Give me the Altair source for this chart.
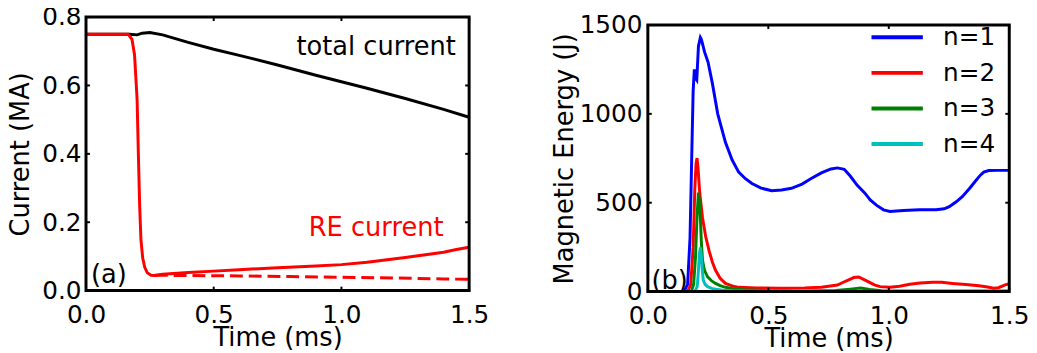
import altair as alt
import pandas as pd

# ---------- Panel (a): currents ----------
tot_t = [0.0, 0.10, 0.17, 0.20, 0.22, 0.25, 0.30, 0.40, 0.50, 0.60, 0.75, 0.90, 1.00, 1.10, 1.25, 1.40, 1.50]
tot_v = [0.750, 0.750, 0.750, 0.748, 0.753, 0.755, 0.748, 0.726, 0.706, 0.688, 0.660, 0.630, 0.611, 0.592, 0.562, 0.530, 0.507]

re_t = [0.0, 0.10, 0.165, 0.180, 0.190, 0.200, 0.205, 0.210, 0.215, 0.222, 0.230, 0.240, 0.255, 0.270, 0.30, 0.40, 0.50, 0.60, 0.75, 0.90, 1.00, 1.10, 1.25, 1.40, 1.45, 1.50]
re_v = [0.750, 0.750, 0.750, 0.735, 0.690, 0.560, 0.400, 0.250, 0.150, 0.095, 0.068, 0.052, 0.045, 0.044, 0.048, 0.053, 0.057, 0.061, 0.067, 0.072, 0.076, 0.083, 0.097, 0.112, 0.120, 0.127]

red_t = [0.27, 0.40, 0.60, 0.80, 1.00, 1.20, 1.40, 1.50]
red_v = [0.045, 0.044, 0.043, 0.041, 0.039, 0.037, 0.034, 0.033]

xa_ticks = [0.0, 0.5, 1.0, 1.5]
ya_ticks = [0.0, 0.2, 0.4, 0.6, 0.8]

# ---------- Panel (b): magnetic energy ----------
n1_t = [0.0, 0.15, 0.165, 0.175, 0.182, 0.188, 0.193, 0.198, 0.203, 0.210, 0.218, 0.222, 0.235, 0.250, 0.268, 0.290, 0.322, 0.350, 0.377, 0.405, 0.432, 0.470, 0.514, 0.555, 0.596, 0.640, 0.678, 0.720, 0.760, 0.787, 0.815, 0.840, 0.869, 0.900, 0.923, 0.950, 0.978, 1.005, 1.060, 1.128, 1.196, 1.230, 1.251, 1.280, 1.305, 1.335, 1.360, 1.380, 1.394, 1.415, 1.450, 1.500]
n1_v = [0, 0, 40, 300, 750, 1130, 1250, 1200, 1190, 1380, 1430, 1420, 1350, 1290, 1170, 1000, 840, 740, 672, 635, 608, 582, 568, 572, 581, 605, 636, 668, 690, 696, 688, 650, 598, 555, 516, 485, 460, 451, 456, 461, 460, 466, 478, 505, 534, 580, 622, 655, 672, 681, 682, 682]

n2_t = [0.0, 0.165, 0.178, 0.188, 0.195, 0.200, 0.204, 0.208, 0.215, 0.227, 0.240, 0.254, 0.268, 0.281, 0.300, 0.322, 0.350, 0.377, 0.450, 0.550, 0.650, 0.720, 0.787, 0.820, 0.855, 0.875, 0.910, 0.940, 0.964, 1.005, 1.045, 1.087, 1.130, 1.182, 1.220, 1.264, 1.320, 1.374, 1.410, 1.435, 1.455, 1.483, 1.500]
n2_v = [0, 0, 40, 250, 580, 720, 751, 700, 560, 414, 310, 230, 165, 120, 75, 46, 32, 24, 20, 19, 21, 25, 37, 58, 79, 82, 59, 38, 28, 24, 30, 41, 48, 52, 52, 46, 40, 33, 26, 19, 22, 38, 44]

n3_t = [0.0, 0.180, 0.190, 0.198, 0.204, 0.210, 0.216, 0.222, 0.227, 0.235, 0.248, 0.265, 0.281, 0.300, 0.322, 0.360, 0.400, 0.500, 0.650, 0.780, 0.840, 0.883, 0.920, 0.970, 1.050, 1.200, 1.500]
n3_v = [0, 0, 40, 200, 420, 557, 480, 280, 174, 120, 83, 60, 46, 34, 24, 15, 10, 5, 4, 6, 14, 20, 12, 5, 3, 3, 3]

n4_t = [0.0, 0.195, 0.205, 0.210, 0.214, 0.218, 0.222, 0.226, 0.230, 0.238, 0.248, 0.265, 0.281, 0.320, 0.350, 0.450, 0.600, 1.500]
n4_v = [0, 0, 30, 120, 210, 248, 200, 120, 64, 40, 28, 18, 13, 7, 5, 2, 0, 0]

mode_names = ["n=1", "n=2", "n=3", "n=4"]
mode_colors = ["#0000ff", "#ff0000", "#008000", "#00bfbf"]

xb_ticks = [0.0, 0.5, 1.0, 1.5]
yb_ticks = [0, 500, 1000, 1500]

FONT = "DejaVu Sans"
LBL = 25
TTL = 26
WA, HA = 388, 277
WB, HB_FRAME = 366, 270
HB = 278  # view height; the frame occupies the lower HB_FRAME pixels
YB_MAX = 1500 * HB / HB_FRAME


def axis(vals, fmt, lpad, tpad, **kw):
    return alt.Axis(values=vals, format=fmt, tickSize=0, domain=False, grid=False,
                    labelFontSize=LBL, titleFontSize=TTL, labelPadding=lpad, titlePadding=tpad,
                    labelFont=FONT, titleFont=FONT, labelColor="black", titleColor="black",
                    titleFontWeight="normal", labelFlush=False, **kw)


def frame_and_ticks(xticks, yticks, W, H, xs, ys, xmax, ymax):
    tx = pd.DataFrame({"t": xticks})
    ty = pd.DataFrame({"v": yticks})
    frame = alt.Chart(pd.DataFrame({"a": [0]})).mark_rect(
        filled=False, stroke="black", strokeWidth=3).encode(
        x=alt.datum(0, scale=xs), x2=alt.datum(xmax), y=alt.datum(0, scale=ys), y2=alt.datum(ymax))
    bot = alt.Chart(tx).mark_rule(color="black", strokeWidth=2).encode(
        x=alt.X("t:Q", scale=xs), y=alt.value(H), y2=alt.value(H - 4))
    top = alt.Chart(tx).mark_rule(color="black", strokeWidth=2, y2Offset=4).encode(
        x=alt.X("t:Q", scale=xs), y=alt.datum(ymax), y2=alt.datum(ymax))
    lef = alt.Chart(ty).mark_rule(color="black", strokeWidth=2).encode(
        y=alt.Y("v:Q", scale=ys), x=alt.value(0), x2=alt.value(4))
    rig = alt.Chart(ty).mark_rule(color="black", strokeWidth=2).encode(
        y=alt.Y("v:Q", scale=ys), x=alt.value(W), x2=alt.value(W - 4))
    return [frame, bot, top, lef, rig]


# ---------- Panel (a) ----------
xs_a = alt.Scale(domain=[0, 1.5], nice=False, zero=False)
ys_a = alt.Scale(domain=[0, 0.8], nice=False)

df_tot = pd.DataFrame({"t": tot_t, "v": tot_v})
df_re = pd.DataFrame({"t": re_t, "v": re_v})
df_red = pd.DataFrame({"t": red_t, "v": red_v})

line_tot = alt.Chart(df_tot).mark_line(color="black", strokeWidth=3).encode(
    x=alt.X("t:Q", scale=xs_a, axis=axis(xa_ticks, ".1f", 12, -2), title="Time (ms)"),
    y=alt.Y("v:Q", scale=ys_a, axis=axis(ya_ticks, ".1f", 5, 8), title="Current (MA)"))
line_re = alt.Chart(df_re).mark_line(color="#ff0000", strokeWidth=3).encode(
    x=alt.X("t:Q", scale=xs_a), y=alt.Y("v:Q", scale=ys_a))
line_red = alt.Chart(df_red).mark_line(color="#ff0000", strokeWidth=3, strokeDash=[13, 6]).encode(
    x=alt.X("t:Q", scale=xs_a), y=alt.Y("v:Q", scale=ys_a))

ann_a = pd.DataFrame({"t": [1.136, 1.136], "v": [0.712, 0.183],
                      "label": ["total current", "RE current"],
                      "c": ["black", "#ff0000"]})
txt_a1 = alt.Chart(ann_a).mark_text(fontSize=TTL, font=FONT, align="center", baseline="middle").encode(
    x=alt.X("t:Q", scale=xs_a), y=alt.Y("v:Q", scale=ys_a), text="label:N",
    color=alt.Color("c:N", scale=None))
txt_a2 = alt.Chart(pd.DataFrame({"t": [0.02], "v": [0.046], "label": ["(a)"]})).mark_text(
    fontSize=TTL, font=FONT, align="left", baseline="middle", color="black").encode(
    x=alt.X("t:Q", scale=xs_a), y=alt.Y("v:Q", scale=ys_a), text="label:N")

panel_a = alt.layer(line_tot, line_re, line_red, txt_a1, txt_a2,
                    *frame_and_ticks(xa_ticks, ya_ticks, WA, HA, xs_a, ys_a, 1.5, 0.8)
                    ).properties(width=WA, height=HA)

# ---------- Panel (b) ----------
xs_b = alt.Scale(domain=[0, 1.5], nice=False, zero=False)
ys_b = alt.Scale(domain=[0, YB_MAX], nice=False)

rows = []
for name, tt, vv in zip(mode_names, [n1_t, n2_t, n3_t, n4_t], [n1_v, n2_v, n3_v, n4_v]):
    for a, b in zip(tt, vv):
        rows.append({"t": a, "E": b, "mode": name})
df_b = pd.DataFrame(rows)

lines_b = alt.Chart(df_b).mark_line(strokeWidth=3).encode(
    x=alt.X("t:Q", scale=xs_b, axis=axis(xb_ticks, ".1f", 12, -2), title="Time (ms)"),
    y=alt.Y("E:Q", scale=ys_b, axis=axis(yb_ticks, "d", 6, 2, titleY=(HB - HB_FRAME) + HB_FRAME / 2),
            title="Magnetic Energy (J)"),
    color=alt.Color("mode:N", scale=alt.Scale(domain=mode_names, range=mode_colors),
                    legend=alt.Legend(title=None, orient="none", legendX=240, legendY=8,
                                      symbolType="M-2.6,0H2.6", symbolSize=400, symbolStrokeWidth=4,
                                      labelFontSize=LBL, labelFont=FONT, labelColor="black",
                                      rowPadding=10, labelOffset=34, padding=0,
                                      symbolOpacity=1)))

txt_b = alt.Chart(pd.DataFrame({"t": [0.015], "E": [60], "label": ["(b)"]})).mark_text(
    fontSize=TTL, font=FONT, align="left", baseline="middle", color="black").encode(
    x=alt.X("t:Q", scale=xs_b), y=alt.Y("E:Q", scale=ys_b), text="label:N")

panel_b = alt.layer(lines_b, txt_b,
                    *frame_and_ticks(xb_ticks, yb_ticks, WB, HB, xs_b, ys_b, 1.5, 1500)
                    ).properties(width=WB, height=HB)

chart = alt.hconcat(panel_a, panel_b, spacing=63).resolve_scale(
    x="independent", y="independent", color="independent"
).properties(padding={"left": 0, "top": -5, "right": 0, "bottom": 0}
).configure_view(stroke=None)

chart.save("out.html", embed_options={"renderer": "svg", "actions": False})
